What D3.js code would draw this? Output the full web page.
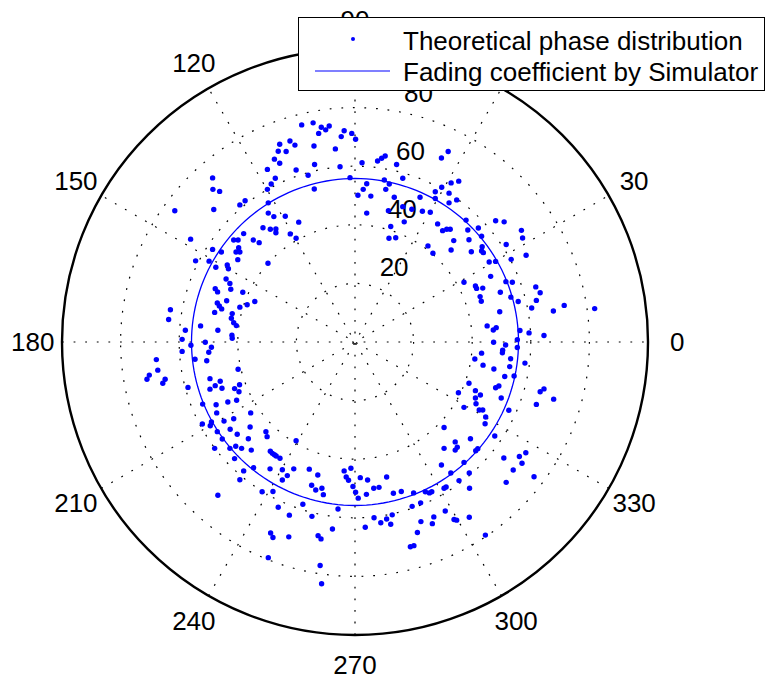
<!DOCTYPE html>
<html>
<head>
<meta charset="utf-8">
<script src="https://cdn.jsdelivr.net/npm/d3@7"></script>
<style>
  body { margin: 0; background: #fff; }
  svg { font-family: "Liberation Sans", Arial, Helvetica, sans-serif; }
</style>
</head>
<body>
<div id="chart"></div>
<script>
var sampleRe = [
  -25.7,-22.2,-20.5,-26.2,-23.5,-27.5,-25.7,-20.1,-29.9,-27.2,-28.6,-29.9,-48.6,-48.5,-46.2,-37.5,-39.3,-29.6,-61.5,-48.2,-29.6,-27.7,-23.8,-19.2,-31.4,-28.9,-27.0,-27.0,-22.1,-20.1,-38.0,-34.7,-32.7,-41.4,-39.9,-56.1,-39.7,-40.6,-39.3,-48.6,-45.6,-54.4,-49.8,-40.0,-29.7,-47.5,-43.6,-43.2,
  -18.2,-14.3,-11.5,-8.8,-10.0,-12.4,-3.7,-1.1,-4.7,0.2,-14.0,-6.7,-13.8,-16.0,-5.1,2.4,7.7,9.1,10.3,14.2,-1.7,16.3,4.0,10.0,11.7,10.5,2.8,1.0,5.4,-13.9,22.2,13.4,4.0,11.4,16.3,16.8,19.4,23.0,25.7,27.4,27.4,32.1,29.6,32.8,35.4,32.1,34.7,31.8,29.5,28.2,29.9,31.3,32.5,33.7,32.8,24.9,26.6,12.2,11.6,13.9,
  37.9,42.1,38.5,43.2,38.9,48.0,50.9,56.8,57.2,51.6,43.4,43.2,43.8,39.7,58.4,53.3,45.8,48.0,
  -44.0,-42.7,-42.4,-47.7,-46.9,-38.3,-43.8,-47.0,-46.3,-45.5,-47.9,-39.3,-36.8,-34.2,-41.9,-42.2,-41.4,-40.5,-63.0,-63.6,-52.7,-46.8,-57.9,-42.0,-41.9,-59.0,-51.1,-49.0,-56.0,-59.0,-49.9,-54.6,-50.6,-67.8,-67.3,-70.2,-71.0,-64.8,-65.6,-39.9,-49.5,-46.0,-47.7,-45.4,-49.5,-39.4,-41.1,-39.6,-57.0,-40.4,-43.4,-47.4,-52.0,-47.2,-35.6,-41.4,-44.7,-49.0,-52.1,-49.4,-42.6,-35.8,
  -47.0,-40.2,-36.4,-30.4,-30.0,-20.1,-47.9,-45.3,-42.7,-40.7,-38.7,-35.4,-41.1,-28.9,-28.2,-27.5,-26.9,-25.6,-34.6,-38.0,-39.3,-29.0,-24.8,-20.9,-23.1,-24.8,-31.7,-28.0,-46.8,-26.2,-22.4,-28.8,-28.0,-22.6,-29.6,
  -15.6,-12.7,-14.8,-13.4,-11.3,-10.8,-17.8,-14.7,-5.8,-7.7,-12.6,-11.6,-11.9,-11.4,-3.7,-1.4,-3.0,-2.2,1.8,4.3,-0.7,0.2,1.1,3.9,6.4,8.2,10.8,13.1,15.8,20.0,24.0,25.4,26.2,22.4,19.5,6.5,8.8,10.8,12.7,12.2,3.5,22.5,26.9,26.4,21.3,18.9,20.1,30.4,34.2,34.2,34.9,29.5,32.7,35.5,30.4,31.1,30.8,33.8,34.7,35.3,30.4,
  39.4,41.2,41.9,37.2,39.0,39.1,47.7,50.8,56.1,58.3,57.0,54.0,51.6,61.1,39.0,44.5,
  46.3,37.2,41.1,41.5,43.6,51.5,53.7,61.7,63.2,49.6,42.7,43.1,53.2,55.7,61.9,60.3,67.7,71.4,81.8,49.4,45.1,47.2,48.2,56.3,59.4,64.5,47.3,51.4,55.4,55.4,50.4,50.3,43.2,40.9,53.1,58.0,43.7,52.8,47.4,51.1,54.3,38.9,48.0,49.1,41.1,42.8,41.1,41.3,49.9,63.2,64.5,67.8,61.9,37.2,42.4,43.6,52.5,44.6,44.4
];
var sampleIm = [
  67.5,68.6,67.2,65.1,65.0,62.4,61.0,58.7,58.9,55.9,53.9,52.1,56.0,52.1,51.4,48.2,46.8,47.5,44.8,45.2,44.0,42.8,42.9,40.9,39.0,38.5,38.6,37.3,36.9,35.4,37.0,34.8,33.9,34.8,34.8,35.1,32.2,30.7,30.7,31.6,30.7,27.7,27.6,28.1,26.9,25.5,26.3,25.0,
  74.1,74.8,73.3,73.7,72.4,71.2,72.1,71.2,70.1,69.2,66.9,65.9,60.6,56.9,59.8,61.2,61.8,62.7,63.5,60.6,56.1,55.9,54.0,55.3,53.9,52.1,52.1,50.1,49.8,52.2,49.4,49.4,44.0,44.8,46.2,41.0,45.3,44.6,44.3,51.3,49.0,50.8,52.8,54.3,54.9,47.5,48.5,65.0,62.8,40.3,38.0,38.5,38.5,34.6,31.4,32.8,30.3,39.4,35.4,35.6,
  41.6,38.9,38.2,36.1,34.9,41.4,41.0,38.1,35.5,33.3,32.5,31.1,30.5,30.8,29.6,28.2,27.3,27.5,
  21.5,20.0,18.0,18.2,17.1,17.0,14.1,13.3,12.3,11.3,10.1,11.9,12.7,13.8,9.7,8.1,6.6,5.6,11.0,7.7,5.5,4.0,4.0,2.3,1.3,0.9,-0.1,-1.8,-1.1,-3.2,-3.5,-5.9,-6.4,-6.0,-9.6,-11.3,-12.7,-12.7,-14.1,-9.3,-12.5,-13.4,-14.9,-15.8,-16.1,-14.6,-15.9,-17.0,-15.5,-19.9,-20.5,-21.4,-21.2,-24.2,-24.2,-26.2,-27.0,-27.3,-28.0,-28.6,-29.8,-29.0,
  -30.6,-31.5,-33.0,-30.6,-32.3,-33.7,-36.3,-33.1,-36.3,-35.6,-36.3,-36.9,-39.8,-37.3,-38.0,-38.5,-38.9,-39.7,-42.9,-44.0,-47.0,-43.3,-43.6,-43.3,-45.6,-47.1,-51.1,-51.0,-52.3,-56.4,-59.1,-65.2,-66.7,-66.5,-73.6,
  -43.4,-45.4,-48.9,-50.5,-49.9,-52.1,-55.4,-59.5,-57.0,-63.8,-66.1,-67.2,-76.3,-82.5,-44.0,-43.1,-46.1,-47.2,-46.3,-47.1,-49.3,-51.3,-53.3,-52.0,-49.9,-49.6,-46.1,-51.6,-51.0,-51.5,-51.1,-51.5,-51.1,-54.9,-56.1,-60.0,-61.7,-60.4,-59.0,-62.2,-63.2,-61.3,-59.7,-62.0,-65.0,-69.9,-69.5,-36.3,-34.1,-36.9,-35.9,-42.0,-44.7,-47.3,-49.9,-49.5,-57.7,-60.6,-60.8,-17.3,-29.2,
  -33.0,-37.1,-36.4,-41.1,-44.7,-49.9,-32.1,-39.6,-39.1,-37.8,-41.4,-43.7,-47.9,-46.0,-59.8,-65.9,
  22.4,20.4,19.1,18.3,18.4,20.6,20.4,18.8,16.8,17.0,15.5,13.9,15.3,13.8,14.2,11.6,10.6,12.5,11.4,10.3,5.5,4.1,4.9,3.9,3.1,2.2,-0.1,-1.0,0.8,-1.9,-2.8,-3.7,-3.8,-5.8,-5.7,-7.2,-7.9,-8.4,-9.2,-11.8,-11.6,-14.1,-15.6,-15.0,-16.6,-18.1,-19.1,-21.1,-19.1,-17.0,-16.0,-19.5,-21.3,-22.3,-23.2,-23.2,-23.3,-25.6,-27.9
];

var simulatorMagnitude = 55.8;   // the simulator curve is a constant-envelope circle
var radialTicks = [20, 40, 60, 80];
var rmax = 100;
var angleTicks = [0, 30, 60, 90, 120, 150, 180, 210, 240, 270, 300, 330];
var legendLabels = ['Theoretical phase distribution', 'Fading coefficient by Simulator'];

var width = 769;
var height = 682;
var cx = 355;
var cy = 342;
var blue = '#0000ff';

var r = d3.scaleLinear().domain([0, rmax]).range([0, 293]);

function rad(deg) {
  return deg * Math.PI / 180;
}
function px(rho, deg) {
  return cx + r(rho) * Math.cos(rad(deg));
}
function py(rho, deg) {
  return cy - r(rho) * Math.sin(rad(deg));
}

var svg = d3
  .select('#chart')
  .append('svg')
  .attr('width', width)
  .attr('height', height)
;

var grid = svg.append('g').attr('class', 'grid');

// dotted rings
grid
  .selectAll('circle.ring')
  .data(radialTicks)
  .enter()
  .append('circle')
  .attr('class', 'ring')
  .attr('cx', cx)
  .attr('cy', cy)
  .attr('r', function(d) { return r(d); })
  .attr('fill', 'none')
  .attr('stroke', '#000')
  .attr('stroke-width', 1.2)
  .attr('stroke-dasharray', '1.8,9.8')
;

// spokes every 30 degrees, across the full diameter
grid
  .selectAll('line.spoke')
  .data(angleTicks.filter(function(a) { return a < 180; }))
  .enter()
  .append('line')
  .attr('class', 'spoke')
  .attr('x1', function(d) { return px(rmax, d + 180); })
  .attr('y1', function(d) { return py(rmax, d + 180); })
  .attr('x2', function(d) { return px(rmax, d); })
  .attr('y2', function(d) { return py(rmax, d); })
  .attr('stroke', '#000')
  .attr('stroke-width', 1.2)
  .attr('stroke-dasharray', '1.8,9.8')
;

// outer boundary, solid
grid
  .append('circle')
  .attr('cx', cx)
  .attr('cy', cy)
  .attr('r', r(rmax))
  .attr('fill', 'none')
  .attr('stroke', '#000')
  .attr('stroke-width', 2.4)
;

// radial tick labels along the 82 degree line
grid
  .selectAll('text.rtick')
  .data(radialTicks)
  .enter()
  .append('text')
  .attr('class', 'rtick')
  .attr('x', function(d) { return px(d, 82) + 16.5; })
  .attr('y', function(d) { return py(d, 82) - 8; })
  .attr('font-size', 26)
  .text(function(d) { return d; })
;

// angle labels at 1.1 * rmax
grid
  .selectAll('text.atick')
  .data(angleTicks)
  .enter()
  .append('text')
  .attr('class', 'atick')
  .attr('x', function(d) { return px(rmax * 1.1, d); })
  .attr('y', function(d) { return py(rmax * 1.1, d) + 9.3; })
  .attr('text-anchor', 'middle')
  .attr('font-size', 26)
  .text(function(d) { return d; })
;

// simulator curve
var simLine = d3.lineRadial()
  .angle(function(d) { return Math.PI / 2 - rad(d); })
  .radius(function() { return r(simulatorMagnitude); })
  .curve(d3.curveLinearClosed)
;
svg
  .append('path')
  .datum(d3.range(0, 360, 2))
  .attr('transform', 'translate(' + cx + ',' + cy + ')')
  .attr('d', simLine)
  .attr('fill', 'none')
  .attr('stroke', blue)
  .attr('stroke-width', 1.3)
;

// samples as phase / magnitude
var samples = sampleRe.map(function(re, i) {
  var im = sampleIm[i];
  return {
    phase: Math.atan2(im, re) * 180 / Math.PI,
    mag: Math.sqrt(re * re + im * im)
  };
});

svg
  .append('g')
  .selectAll('circle')
  .data(samples)
  .enter()
  .append('circle')
  .attr('cx', function(d) { return px(d.mag, d.phase); })
  .attr('cy', function(d) { return py(d.mag, d.phase); })
  .attr('r', 2.7)
  .attr('fill', blue)
;

// legend
var legend = svg.append('g').attr('class', 'legend');
legend
  .append('rect')
  .attr('x', 298.5)
  .attr('y', 17.5)
  .attr('width', 466)
  .attr('height', 73)
  .attr('fill', '#fff')
  .attr('stroke', '#000')
  .attr('stroke-width', 1)
;
legend
  .append('circle')
  .attr('cx', 353)
  .attr('cy', 39)
  .attr('r', 2)
  .attr('fill', blue)
;
legend
  .append('line')
  .attr('x1', 315)
  .attr('x2', 390)
  .attr('y1', 71)
  .attr('y2', 71)
  .attr('stroke', blue)
  .attr('stroke-width', 1.2)
;
legend
  .selectAll('text')
  .data(legendLabels)
  .enter()
  .append('text')
  .attr('x', 403)
  .attr('y', function(d, i) { return 50 + i * 30.5; })
  .attr('font-size', 26)
  .text(function(d) { return d; })
;
</script>
</body>
</html>
